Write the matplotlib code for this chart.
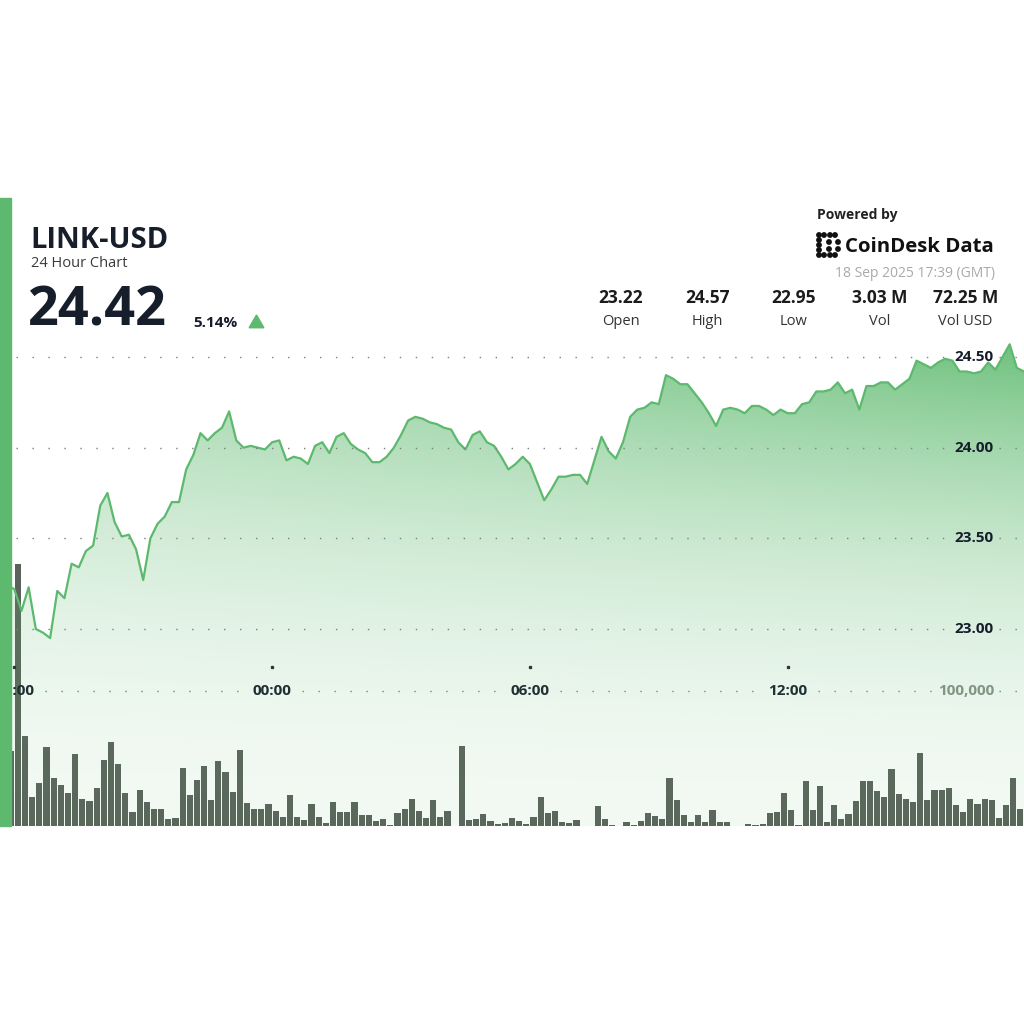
import numpy as np
import pandas as pd
import matplotlib
matplotlib.use('Agg')
import matplotlib.pyplot as plt
import matplotlib.dates as mdates
from matplotlib.transforms import blended_transform_factory
from matplotlib.patches import Rectangle, Polygon, Circle, RegularPolygon

plt.rcParams['font.family'] = ['Open Sans', 'DejaVu Sans']

# ---- data ----
symbol = 'LINK-USD'
subtitle = '24 Hour Chart'
last_price = '24.42'
change_pct = '5.14%'
stamp = '18 Sep 2025 17:39 (GMT)'
stat_values = ['23.22', '24.57', '22.95', '3.03 M', '72.25 M']
stat_labels = ['Open', 'High', 'Low', 'Vol', 'Vol USD']
price_ticks = [23.0, 23.5, 24.0, 24.5]
volume_tick = 100000
time_ticks = ['2025-09-17 18:00', '2025-09-18 00:00', '2025-09-18 06:00', '2025-09-18 12:00']

# 10 minute closes, first one at 17:50
price_start = '2025-09-17 17:50'
prices = [
    23.24, 23.22, 23.10, 23.23, 23.00, 22.98, 22.95, 23.21, 23.17, 23.36,
    23.34, 23.43, 23.46, 23.68, 23.75, 23.59, 23.51, 23.52, 23.44, 23.27,
    23.50, 23.58, 23.62, 23.70, 23.70, 23.88, 23.96, 24.08, 24.04, 24.08,
    24.11, 24.20, 24.04, 24.00, 24.01, 24.00, 23.99, 24.03, 24.04, 23.93,
    23.95, 23.94, 23.91, 24.01, 24.03, 23.97, 24.06, 24.08, 24.02, 23.99,
    23.97, 23.92, 23.92, 23.95, 24.00, 24.07, 24.15, 24.17, 24.16, 24.14,
    24.13, 24.11, 24.10, 24.03, 23.99, 24.07, 24.09, 24.03, 24.01, 23.95,
    23.88, 23.91, 23.95, 23.91, 23.81, 23.71, 23.77, 23.84, 23.84, 23.85,
    23.85, 23.80, 23.93, 24.06, 23.98, 23.94, 24.03, 24.17, 24.21, 24.22,
    24.25, 24.24, 24.40, 24.38, 24.35, 24.35, 24.30, 24.25, 24.19, 24.12,
    24.21, 24.22, 24.21, 24.19, 24.23, 24.23, 24.21, 24.18, 24.21, 24.19,
    24.19, 24.24, 24.25, 24.31, 24.31, 24.32, 24.36, 24.30, 24.32, 24.21,
    24.34, 24.34, 24.36, 24.36, 24.32, 24.35, 24.38, 24.48, 24.46, 24.44,
    24.47, 24.49, 24.48, 24.42, 24.42, 24.41, 24.42, 24.47, 24.43, 24.50,
    24.57, 24.44, 24.42,
]

# 10 minute volumes in thousands, first bar centred at 17:55
volume_start = '2025-09-17 17:55'
volumes_k = [
    55.3, 194.3, 67.0, 21.8, 31.8, 58.6, 35.2, 30.3, 24.8, 53.6,
    19.9, 18.4, 28.0, 48.6, 62.0, 45.7, 24.8, 10.7, 27.0, 17.6,
    12.9, 12.7, 5.0, 6.2, 43.2, 22.8, 34.0, 44.2, 19.4, 47.9,
    39.7, 25.3, 56.3, 17.4, 12.7, 12.7, 16.4, 11.2, 6.5, 22.6,
    6.9, 4.5, 16.6, 6.5, 2.5, 17.9, 10.7, 10.7, 18.1, 8.4,
    8.4, 3.7, 5.0, 0.7, 9.4, 12.7, 20.3, 11.4, 6.2, 19.4,
    6.9, 11.4, 0.0, 59.6, 4.5, 5.5, 8.9, 3.7, 1.5, 2.0,
    6.2, 4.0, 1.2, 6.9, 21.3, 9.4, 11.4, 3.2, 2.0, 4.5,
    0.3, 0.3, 15.1, 5.5, 0.7, 0.0, 3.2, 0.7, 3.7, 9.4,
    7.7, 5.0, 35.5, 19.4, 8.4, 3.2, 8.4, 3.2, 11.9, 3.2,
    3.2, 0.3, 0.0, 1.7, 0.5, 1.5, 9.7, 10.7, 24.6, 11.9,
    0.5, 33.5, 11.9, 29.3, 3.2, 15.9, 5.5, 8.7, 18.4, 33.5,
    33.5, 26.1, 21.6, 42.2, 23.8, 20.1, 17.9, 54.3, 19.4, 26.3,
    26.3, 28.5, 15.9, 10.4, 19.9, 16.1, 20.3, 19.1, 5.7, 15.6,
    35.7, 12.7, 3.2,
]

GREEN = '#5cb96d'
DARK = '#161d2b'
W = H = 1024

t_price = pd.date_range(price_start, periods=len(prices), freq='10min')
t_vol = pd.date_range(volume_start, periods=len(volumes_k), freq='10min')
x_left = pd.Timestamp('2025-09-17 17:40')
x_right = pd.Timestamp('2025-09-18 17:30')

fig = plt.figure(figsize=(W / 100, H / 100), dpi=100)
fig.patch.set_facecolor('white')

# chart box spans y = 198 .. 826 px
top_px, bot_px = 198, 826
rect = [0, 1 - bot_px / H, 1, (bot_px - top_px) / H]
ax_v = fig.add_axes(rect)
ax_p = ax_v.twinx()

# price scale: 24.50 at 357 px, 23.00 at 629 px
ppx = (629 - 357) / 1.5
p_hi = 24.5 + (357 - top_px) / ppx
p_lo = 23.0 - (bot_px - 629) / ppx
ax_p.set_ylim(p_lo, p_hi)
# volume scale: 0 at 826 px, 100,000 at 691 px
vpx = (bot_px - 691) / (volume_tick / 1000)
ax_v.set_ylim(0, (bot_px - top_px) / vpx)

for a in (ax_v, ax_p):
    a.set_xlim(x_left, x_right)
    a.set_axis_off()

# volume bars
bar_w = pd.Timedelta(minutes=8.6)
ax_v.bar(t_vol, volumes_k, width=bar_w, color='#5a625b', edgecolor='none', zorder=2)

# gradient fill under the price line
xn = mdates.date2num(t_price)
x0n, x1n = mdates.date2num(x_left), mdates.date2num(x_right)
ypx = np.linspace(top_px, bot_px, 400)[:, None]
xpx = np.linspace(0, W, 400)[None, :]
tt = np.clip((ypx - 340) / (bot_px - 340), 0, 1)
alpha = 0.08 + 0.82 * (1 - tt) ** 2 * (0.6 + 0.4 * xpx / W)
grad = np.zeros((400, 400, 4))
grad[..., 0] = 0x5c / 255
grad[..., 1] = 0xb9 / 255
grad[..., 2] = 0x6d / 255
grad[..., 3] = alpha
im = ax_p.imshow(grad, extent=[x0n, x1n, p_lo, p_hi], origin='upper',
                 aspect='auto', zorder=1, interpolation='bilinear')
verts = np.vstack([[xn[0], p_lo], np.column_stack([xn, prices]), [xn[-1], p_lo]])
clip = Polygon(verts, closed=True, transform=ax_p.transData, facecolor='none', edgecolor='none')
ax_p.add_patch(clip)
im.set_clip_path(clip)
ax_p.plot(t_price, prices, color=GREEN, lw=1.6, zorder=3, solid_joinstyle='round')
ax_p.set_xlim(x_left, x_right)
ax_p.set_ylim(p_lo, p_hi)


def dotted(ax, y, gaps):
    # dotted guide across the chart, skipping the pixel ranges in gaps
    tr = blended_transform_factory(ax.transAxes, ax.transData)
    edges = [0] + [g for gap in gaps for g in gap] + [W]
    for a, b in zip(edges[0::2], edges[1::2]):
        ax.plot([a / W, b / W], [y, y], transform=tr, color='#7e7e7e', lw=1.0,
                linestyle=(0, (1, 10.5)), zorder=4)


label_tr_p = blended_transform_factory(ax_p.transAxes, ax_p.transData)
for p in price_ticks:
    dotted(ax_p, p, [(947, 999)])
    ax_p.text(994 / W, p, f'{p:.2f}', transform=label_tr_p, ha='right', va='center',
              fontsize=11, fontweight='bold', color=DARK, zorder=5)

# time axis labels on the 100,000 volume guide
tick_nums = mdates.date2num(pd.to_datetime(time_ticks))
tick_px = (tick_nums - x0n) / (x1n - x0n) * W
dotted(ax_v, volume_tick / 1000, [(0, 45)] + [(c - 28, c + 30) for c in tick_px[1:]] + [(934, 999)])
for tn, lab in zip(tick_nums, time_ticks):
    ax_v.text(tn, volume_tick / 1000, pd.Timestamp(lab).strftime('%H:%M'), ha='center',
              va='center', fontsize=11, fontweight='bold', color=DARK, zorder=5)
ax_v.text(994 / W, volume_tick / 1000, f'{volume_tick:,}',
          transform=blended_transform_factory(ax_v.transAxes, ax_v.transData),
          ha='right', va='center', fontsize=11, fontweight='bold', color='#86918a', zorder=5)
tick_y = (bot_px - 667) / (bot_px - top_px)
ax_p.plot(tick_nums, [tick_y] * len(tick_nums), linestyle='none', marker='s', ms=1.4,
          color='#333333', transform=blended_transform_factory(ax_p.transData, ax_p.transAxes),
          zorder=5)

# left accent bar
fig.patches.append(Rectangle((0, 1 - bot_px / H), 11 / W, (bot_px - top_px) / H,
                             transform=fig.transFigure, color=GREEN, zorder=10))


def fx(x):
    return x / W


def fy(y):
    return 1 - y / H


# header
fig.text(fx(30), fy(248), symbol, fontsize=21, fontweight='bold', color=DARK, va='baseline')
fig.text(fx(31), fy(267), subtitle, fontsize=10.5, color='#3a3a3a', va='baseline')
fig.text(fx(28), fy(325), last_price, fontsize=39, fontweight='bold', color=DARK, va='baseline')
fig.text(fx(193), fy(327), change_pct, fontsize=11, fontweight='bold', color=DARK, va='baseline')
fig.patches.append(RegularPolygon((fx(256.5), fy(323.5)), 3, radius=8.5 / W,
                                  transform=fig.transFigure, color=GREEN))

fig.text(fx(817), fy(219.5), 'Powered by', fontsize=10, fontweight='bold', color='#222222', va='baseline')
fig.text(fx(845), fy(252), 'CoinDesk Data', fontsize=14.7, fontweight='bold', color='#111111', va='baseline')
# small dotted bracket logo
logo_pts = [(819, 235), (819, 240), (819, 245), (819, 250), (819, 255),
            (824, 235), (830, 235), (835, 235), (824, 255), (830, 255), (835, 255),
            (829, 242), (829, 249), (838, 242), (838, 249)]
for lx, ly in logo_pts:
    fig.patches.append(Circle((fx(lx), fy(ly)), 2.2 / W, transform=fig.transFigure, color='#111111'))
fig.text(fx(995), fy(277), stamp, fontsize=10, color='#a9a9a9', ha='right', va='baseline')

stat_x = [621, 707.5, 794, 879.5, 965.5]
for sx, sv, sl in zip(stat_x, stat_values, stat_labels):
    fig.text(fx(sx), fy(303), sv, fontsize=12.5, fontweight='bold', color='#1b1b1b', ha='center', va='baseline')
    fig.text(fx(sx), fy(325), sl, fontsize=10.5, color='#333333', ha='center', va='baseline')

fig.savefig('out.png', dpi=100, facecolor='white')
